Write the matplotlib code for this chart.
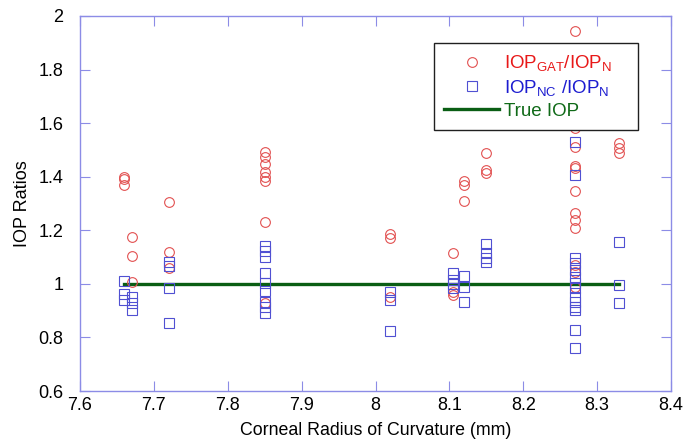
import matplotlib
matplotlib.use("Agg")
import matplotlib.pyplot as plt

plt.rcParams['font.family'] = ['Liberation Sans', 'DejaVu Sans']
plt.rcParams['mathtext.fontset'] = 'custom'
plt.rcParams['mathtext.rm'] = 'Liberation Sans'
plt.rcParams['mathtext.it'] = 'Liberation Sans'

# corneal radius (mm) and ratio for each measurement
gat_x = [7.66, 7.66, 7.66, 7.67, 7.67, 7.67,
         7.72, 7.72, 7.72,
         7.85, 7.85, 7.85, 7.85, 7.85, 7.85, 7.85, 7.85,
         8.02, 8.02, 8.02,
         8.105, 8.105, 8.105,
         8.12, 8.12, 8.12,
         8.15, 8.15, 8.15,
         8.27, 8.27, 8.27, 8.27, 8.27, 8.27, 8.27, 8.27, 8.27, 8.27, 8.27, 8.27,
         8.33, 8.33, 8.33]
gat_y = [1.40, 1.39, 1.37, 1.176, 1.105, 1.008,
         1.304, 1.12, 1.06,
         1.493, 1.472, 1.446, 1.419, 1.40, 1.385, 1.232, 0.93,
         1.185, 1.170, 0.952,
         1.117, 0.971, 0.96,
         1.384, 1.369, 1.31,
         1.487, 1.425, 1.413,
         1.945, 1.583, 1.512, 1.441, 1.431, 1.347, 1.263, 1.238, 1.207, 1.07, 1.046, 0.99,
         1.525, 1.506, 1.487]

nc_x = [7.66, 7.66, 7.66, 7.67, 7.67, 7.67,
        7.72, 7.72, 7.72, 7.72,
        7.85, 7.85, 7.85, 7.85, 7.85, 7.85, 7.85, 7.85, 7.85,
        8.02, 8.02, 8.02,
        8.105, 8.105, 8.105, 8.105,
        8.12, 8.12, 8.12,
        8.15, 8.15, 8.15, 8.15,
        8.27, 8.27, 8.27, 8.27, 8.27, 8.27, 8.27, 8.27, 8.27, 8.27, 8.27, 8.27, 8.27, 8.27,
        8.33, 8.33, 8.33]
nc_y = [1.012, 0.962, 0.94, 0.951, 0.927, 0.902,
        1.083, 1.068, 0.986, 0.855,
        1.143, 1.124, 1.101, 1.042, 1.004, 0.973, 0.933, 0.915, 0.89,
        0.971, 0.94, 0.824,
        1.042, 1.014, 0.999, 0.983,
        1.03, 0.99, 0.931,
        1.148, 1.115, 1.098, 1.08,
        1.53, 1.406, 1.095, 1.077, 1.052, 1.027, 1.004, 0.983, 0.952, 0.933, 0.915, 0.902, 0.828, 0.759,
        1.156, 0.995, 0.927]

true_x = [7.66, 8.33]
true_y = [1.0, 1.0]

xticks = [7.6, 7.7, 7.8, 7.9, 8.0, 8.1, 8.2, 8.3, 8.4]
xticklabels = ['7.6', '7.7', '7.8', '7.9', '8', '8.1', '8.2', '8.3', '8.4']
yticks = [0.6, 0.8, 1.0, 1.2, 1.4, 1.6, 1.8, 2.0]
yticklabels = ['0.6', '0.8', '1', '1.2', '1.4', '1.6', '1.8', '2']

fig = plt.figure(figsize=(6.99, 4.46), dpi=100)
ax = fig.add_axes([80 / 699, 1 - 391 / 446, 591 / 699, 375 / 446])

red = '#e25050'
blue = '#5050d2'
green = '#0a5e14'
axcol = '#8c8ce6'

ax.plot(true_x, true_y, color=green, lw=2.4, zorder=1, label='True IOP')
ax.plot(gat_x, gat_y, 'o', mfc='none', mec=red, ms=7, mew=0.8, zorder=2,
        label=r'IOP$_{\mathrm{GAT}}$/IOP$_{\mathrm{N}}$')
ax.plot(nc_x, nc_y, 's', mfc='none', mec=blue, ms=7, mew=0.8, zorder=2,
        label=r'IOP$_{\mathrm{NC}}$ /IOP$_{\mathrm{N}}$')

ax.set_xlim(7.6, 8.4)
ax.set_ylim(0.6, 2.0)
ax.set_xticks(xticks)
ax.set_xticklabels(xticklabels)
ax.set_yticks(yticks)
ax.set_yticklabels(yticklabels)
ax.tick_params(direction='in', length=7, width=0.8, color=axcol,
               top=True, right=True, labelsize=13)
ax.tick_params(axis='x', pad=4)
ax.tick_params(axis='y', pad=12)
for s in ax.spines.values():
    s.set_color(axcol)
    s.set_linewidth(1.0)

ax.set_xlabel('Corneal Radius of Curvature (mm)', fontsize=12.8, labelpad=6)
ax.set_ylabel('IOP Ratios', fontsize=13, labelpad=5)

h, l = ax.get_legend_handles_labels()
order = [1, 2, 0]
leg = ax.legend([h[i] for i in order], [l[i] for i in order],
                loc='upper left', bbox_to_anchor=(0.599, 0.5, 0.345, 0.428),
                mode='expand', borderaxespad=0, fancybox=False, fontsize=13.5,
                handlelength=2.9, handletextpad=0.3, labelspacing=0.25,
                borderpad=0.55, framealpha=1, edgecolor='#202020')
leg.get_frame().set_linewidth(1.0)
for t, c in zip(leg.get_texts(), ['#e81818', '#1c1cd0', '#106a18']):
    t.set_color(c)

fig.savefig('out.png', dpi=100)
